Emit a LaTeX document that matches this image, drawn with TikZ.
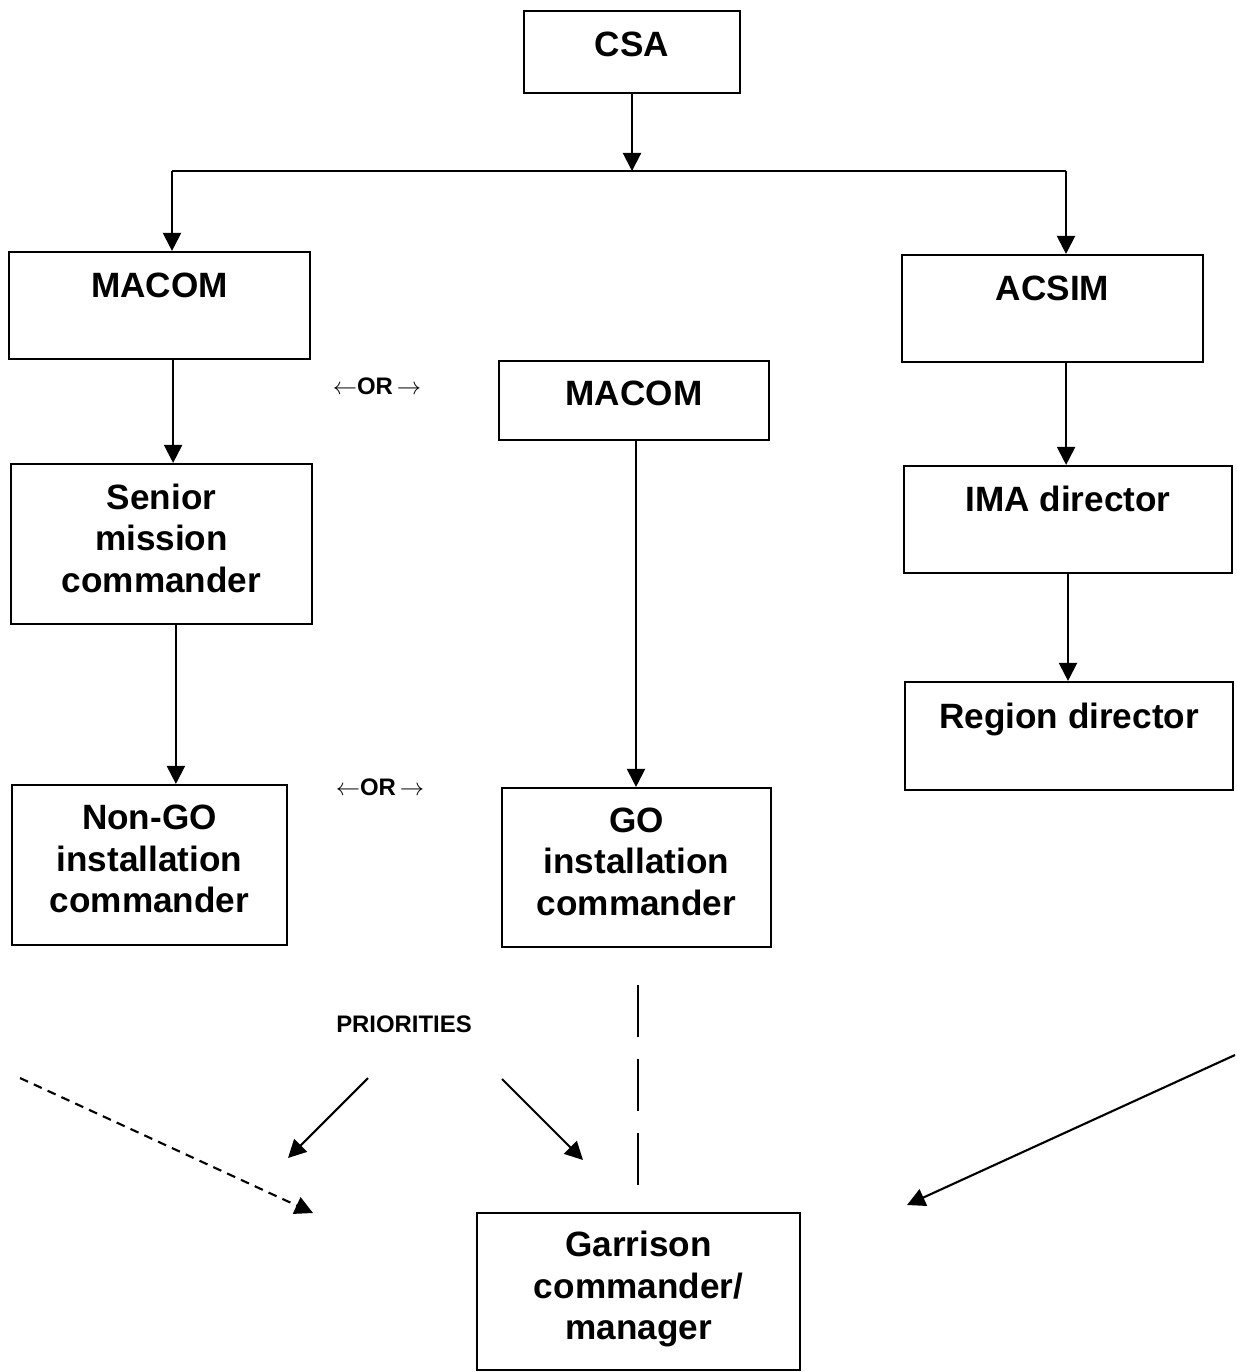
\documentclass[tikz,border=0pt]{standalone}
\usepackage{fontspec}
\setmainfont{Liberation Sans}
\usetikzlibrary{arrows.meta}

\begin{document}
\begin{tikzpicture}
		[
		x = 0.025cm, y = -0.025cm,
		box/.style = {draw, line width = 1.5pt, align = center, inner sep = 0pt, font = \fontsize{25}{29.5}\selectfont\bfseries},
		oneline/.style = {text height = 0.6cm, text depth = #1},
		threeline/.style = {text depth = 0.3cm},
		arr/.style = {line width = 1.5pt, -{Triangle[length = 0.45cm, width = 0.45cm]}},
		small/.style = {font = \fontsize{17}{20}\selectfont\bfseries}
		]
		
		\useasboundingbox (0,0) rectangle (1236,1372);
		
		\node[box, oneline = 0.35cm, minimum width = 5.4cm, minimum height = 2.05cm] (csa) at (632,52) {CSA};
		\node[box, oneline = 1.0cm, minimum width = 7.525cm, minimum height = 2.675cm] (macomA) at (159.5,305.5) {MACOM};
		\node[box, oneline = 1.0cm, minimum width = 7.525cm, minimum height = 2.675cm] (acsim) at (1052.5,308.5) {ACSIM};
		\node[box, oneline = 0.33cm, minimum width = 6.75cm, minimum height = 1.975cm] (macomB) at (634,400.5) {MACOM};
		\node[box, threeline, minimum width = 7.525cm, minimum height = 4cm] (senior) at (161.5,544) {Senior\\mission\\commander};
		\node[box, oneline = 0.98cm, minimum width = 8.2cm, minimum height = 2.675cm] (ima) at (1068,519.5) {IMA director};
		\node[box, oneline = 1.0cm, minimum width = 8.2cm, minimum height = 2.7cm] (region) at (1069,736) {Region director};
		\node[box, threeline, minimum width = 6.875cm, minimum height = 4cm] (nongo) at (149.5,865) {Non-GO\\installation\\commander};
		\node[box, threeline, minimum width = 6.725cm, minimum height = 3.975cm] (go) at (636.5,867.5) {GO\\installation\\commander};
		\node[box, threeline, minimum width = 8.075cm, minimum height = 3.925cm] (garrison) at (638.5,1291.5) {Garrison\\commander/\\manager};
		
		\node[small] (orA) at (377,386) {$\leftarrow$OR\,$\rightarrow$};
		\node[small] (orB) at (380,787) {$\leftarrow$OR\,$\rightarrow$};
		\node[small] (prio) at (404,1024) {PRIORITIES};
		
		\coordinate (split) at (632,171);
		\coordinate (cornerL) at (172,171);
		\coordinate (cornerR) at (1066,171);
		\coordinate (prioL) at (368,1078);
		\coordinate (prioLend) at (288,1158);
		\coordinate (prioR) at (502,1079);
		\coordinate (prioRend) at (583,1160);
		\coordinate (dashL) at (20,1078);
		\coordinate (dashLend) at (313,1213);
		\coordinate (farR) at (1235,1055);
		\coordinate (farRend) at (907,1205);
		\coordinate (goTop) at (638,985);
		\coordinate (goBot) at (638,1188);
		
		\draw[arr] (csa) -- (split);
		\draw[line width = 1.5pt] (cornerL) -- (cornerR);
		\draw[arr] (cornerL) -- (cornerL |- macomA.north);
		\draw[arr] (cornerR) -- (cornerR |- acsim.north);
		\draw[arr] ([xshift = 0.34cm]macomA.south) -- ([xshift = 0.34cm]macomA.south |- senior.north);
		\draw[arr] ([xshift = 0.36cm]senior.south) -- ([xshift = 0.36cm]senior.south |- nongo.north);
		\draw[arr] ([xshift = 0.34cm]acsim.south) -- ([xshift = 0.34cm]acsim.south |- ima.north);
		\draw[arr] (ima.south) -- (ima.south |- region.north);
		\draw[arr] ([xshift = 0.05cm]macomB.south) -- ([xshift = 0.05cm]macomB.south |- go.north);
		
		\draw[arr] (prioL) -- (prioLend);
		\draw[arr] (prioR) -- (prioRend);
		\draw[arr, dash pattern = on 0.22cm off 0.16cm] (dashL) -- (dashLend);
		\draw[arr] (farR) -- (farRend);
		\draw[line width = 1.5pt, dash pattern = on 1.3cm off 0.55cm] (goTop) -- (goBot);
		
\end{tikzpicture}
\end{document}
